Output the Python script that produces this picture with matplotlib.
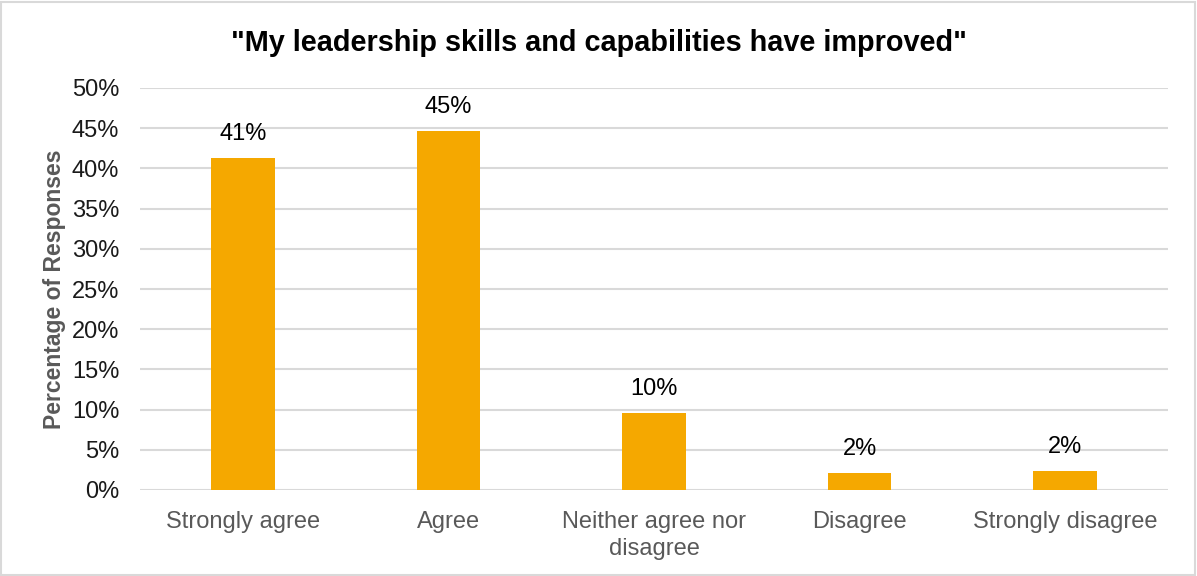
import matplotlib
matplotlib.use("Agg")
import matplotlib.pyplot as plt
from matplotlib.patches import Rectangle

categories = ["Strongly agree", "Agree", "Neither agree nor\ndisagree", "Disagree", "Strongly disagree"]
percentages = [41.3, 44.6, 9.6, 2.1, 2.4]
y_ticks = [0, 5, 10, 15, 20, 25, 30, 35, 40, 45, 50]

plt.rcParams["font.family"] = ["Liberation Sans", "DejaVu Sans"]

W, H = 1197, 576
fig = plt.figure(figsize=(W / 100, H / 100), dpi=100)
ax = fig.add_axes([140 / W, (H - 490) / H, (1168 - 140) / W, (490 - 88) / H])

bar_color = "#F5A800"
x = list(range(len(categories)))
bars = ax.bar(x, percentages, width=0.31, color=bar_color, zorder=3)

for xi, v in zip(x, percentages):
    ax.text(xi, v + 3.0, f"{v:.0f}%", ha="center", va="center",
            fontsize=17, color="#000000", zorder=4)

ax.set_xlim(-0.5, len(categories) - 0.5)
ax.set_ylim(0, 50)
ax.set_yticks(y_ticks)
ax.set_yticklabels([f"{t}%" for t in y_ticks], fontsize=17, color="#1a1a1a")
ax.set_xticks(x)
ax.set_xticklabels(categories, fontsize=17, color="#595959", linespacing=1.3)
ax.tick_params(axis="both", length=0)
ax.tick_params(axis="y", pad=15)
ax.tick_params(axis="x", pad=15)

ax.grid(axis="y", color="#D9D9D9", linewidth=1.5, zorder=0)
for s in ax.spines.values():
    s.set_visible(False)

ax.set_ylabel("Percentage of Responses", fontsize=16.5, fontweight="bold",
              color="#595959", labelpad=4)
fig.text(0.5, 1 - 43 / H, '"My leadership skills and capabilities have improved"',
         ha="center", va="center", fontsize=20.8, fontweight="bold", color="#000000")

fig.patches.append(Rectangle((1 / W, 1 / H), (W - 3) / W, (H - 3) / H,
                             transform=fig.transFigure, fill=False,
                             edgecolor="#D9D9D9", linewidth=1.5))

fig.savefig("out.png", dpi=100)
